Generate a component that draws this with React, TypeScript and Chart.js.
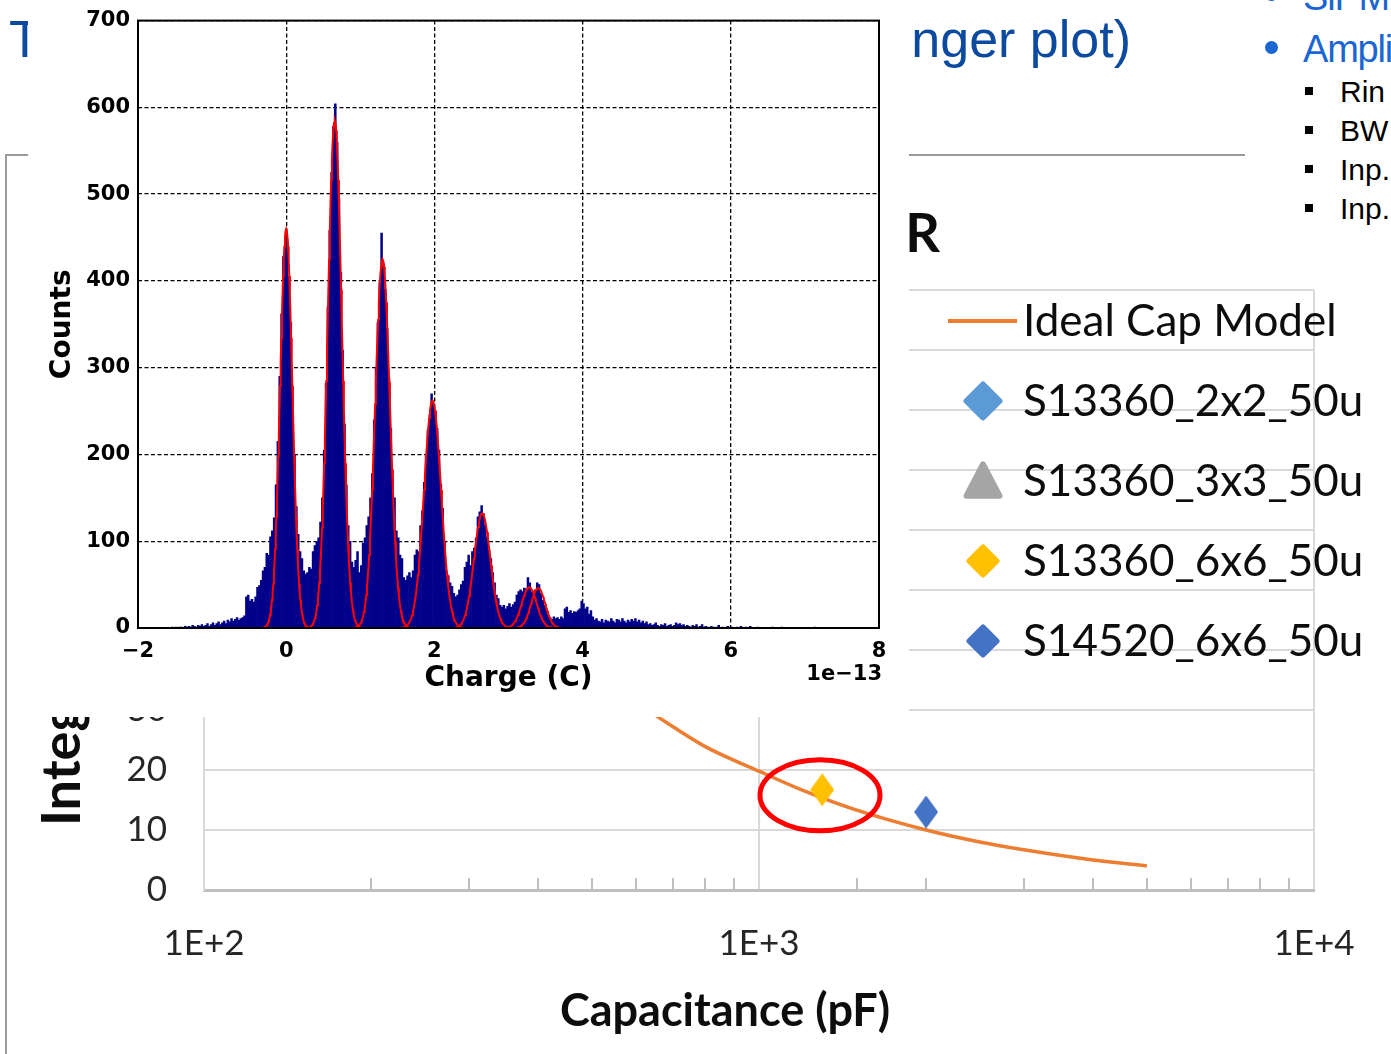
import React, { useEffect, useRef } from "react";
import { Chart, registerables } from "chart.js";

Chart.register(...registerables);

// ---------------- Charge spectrum (finger plot) ----------------
const HIST_START = -1.6; // left edge of first bin (×1e-13 C)
const BIN_WIDTH = 0.025;
const histCounts = [
  0, 0, 1, 0, 1, 0, 1, 1, 0, 2,
  1, 2, 1, 3, 2, 1, 3, 2, 4, 2,
  3, 5, 2, 4, 6, 3, 5, 7, 4, 6,
  8, 5, 9, 7, 11, 8, 10, 12, 9, 11,
  12, 14, 36, 38, 31, 33, 30, 36, 47, 49,
  55, 66, 70, 86, 84, 105, 112, 127, 165, 215,
  290, 362, 428, 452, 448, 405, 352, 268, 200, 140,
  108, 88, 80, 66, 62, 64, 70, 68, 88, 95,
  100, 104, 122, 150, 205, 282, 370, 458, 525, 578,
  604, 560, 495, 410, 320, 235, 165, 118, 100, 76,
  70, 78, 88, 64, 72, 98, 104, 118, 128, 150,
  178, 240, 300, 352, 398, 455, 420, 390, 345, 288,
  230, 172, 150, 112, 104, 84, 80, 58, 55, 60,
  64, 58, 66, 84, 90, 88, 118, 135, 168, 198,
  228, 246, 270, 258, 250, 230, 205, 166, 138, 100,
  66, 60, 52, 48, 40, 36, 38, 44, 50, 54,
  70, 76, 84, 72, 88, 92, 104, 128, 134, 141,
  132, 118, 104, 90, 80, 64, 52, 38, 34, 26,
  24, 26, 22, 25, 28, 24, 27, 30, 38, 42,
  44, 42, 46, 45, 58, 52, 42, 40, 44, 52,
  50, 40, 32, 26, 20, 15, 12, 10, 13, 11,
  12, 10, 13, 11, 22, 24, 18, 20, 17, 19,
  18, 20, 22, 31, 28, 22, 24, 16, 20, 13,
  9, 11, 8, 7, 10, 6, 9, 8, 7, 11,
  8, 6, 10, 9, 7, 11, 8, 6, 9, 7,
  10, 8, 11, 7, 9, 6, 8, 5, 7, 4,
  5, 3, 4, 6, 3, 2, 4, 3, 5, 2,
  3, 4, 2, 3, 6, 4, 5, 3, 4, 2,
  3, 2, 1, 3, 2, 4, 1, 2, 4, 1,
  2, 1, 0, 2, 1, 0, 1, 3, 0, 1,
  0, 1, 2, 0, 1, 0, 0, 1, 0, 2,
  0, 0, 1, 0, 2, 0, 0, 0, 1, 0,
  0, 0, 0, 0, 0, 0, 1, 0, 0, 0,
  0, 1, 0, 0, 0, 0, 0, 0, 0, 0,
  0, 0, 0, 0, 0, 0, 0, 0, 0, 1,
];

// Gaussian fit of each photo-electron peak
const fitMean = [0.0, 0.655, 1.3, 1.975, 2.645, 3.28, 3.4];
const fitAmp = [460, 585, 425, 262, 132, 47, 46];
const fitSigma = [0.083, 0.095, 0.1, 0.115, 0.11, 0.1, 0.095];

const histXTicks = [-2, 0, 2, 4, 6, 8];

// ---------------- Charge vs. capacitance ----------------
const capModelC = [200, 250, 300, 400, 500, 600, 700, 800, 1000, 1200, 1500, 2000, 2500, 3000, 4000, 5000];
const capModelQ = [100, 80, 64, 48, 38.5, 31.5, 27.2, 23.9, 19.8, 16.6, 13.3, 10, 8, 6.7, 5, 4];

const seriesNames = ["S13360_2x2_50u", "S13360_3x3_50u", "S13360_6x6_50u", "S14520_6x6_50u"];
const seriesCap: number[][] = [[], [], [1300], [2000]];
const seriesCharge: number[][] = [[], [], [16.7], [13.0]];
const seriesColors = ["#5B9BD5", "#A5A5A5", "#FFC000", "#4472C4"];
const seriesShapes = ["diamond", "triangle", "diamond", "diamond"];
const seriesLegendSize = [39, 39, 33, 33];

// highlighted measurement (ellipse centre, in data units)
const highlightC = 1288;
const highlightQ = 15.8;

const ORANGE = "#ED7D31";
const LATO = "Lato, 'Open Sans', sans-serif";

const isDecade = (v: number) => Math.abs(Math.log10(v) - Math.round(Math.log10(v))) < 1e-9;

function rhombusImage(w: number, h: number, color: string) {
  const c = document.createElement("canvas");
  c.width = w;
  c.height = h;
  const g = c.getContext("2d")!;
  g.fillStyle = color;
  g.beginPath();
  g.moveTo(w / 2, 0);
  g.lineTo(w, h / 2);
  g.lineTo(w / 2, h);
  g.lineTo(0, h / 2);
  g.closePath();
  g.fill();
  return c;
}

function drawLegendMarker(ctx: CanvasRenderingContext2D, shape: string, cx: number, cy: number, size: number, color: string) {
  const r = 3;
  const s = size / 2 - r;
  ctx.save();
  ctx.fillStyle = color;
  ctx.strokeStyle = color;
  ctx.lineWidth = r * 2;
  ctx.lineJoin = "round";
  ctx.beginPath();
  if (shape === "triangle") {
    ctx.moveTo(cx, cy - s);
    ctx.lineTo(cx + s, cy + s * 0.9);
    ctx.lineTo(cx - s, cy + s * 0.9);
  } else {
    ctx.moveTo(cx, cy - s);
    ctx.lineTo(cx + s, cy);
    ctx.lineTo(cx, cy + s);
    ctx.lineTo(cx - s, cy);
  }
  ctx.closePath();
  ctx.fill();
  ctx.stroke();
  ctx.restore();
}

const lowerDecor = {
  id: "lowerDecor",
  afterDatasetsDraw(chart: any) {
    const { ctx } = chart;
    const x = chart.scales.x;
    const y = chart.scales.y;
    ctx.save();
    // inner minor tick marks on the capacitance axis
    ctx.strokeStyle = "#BFBFBF";
    ctx.lineWidth = 2;
    x.ticks.forEach((t: any) => {
      if (isDecade(t.value)) return;
      const px = Math.round(x.getPixelForValue(t.value));
      ctx.beginPath();
      ctx.moveTo(px, y.bottom);
      ctx.lineTo(px, y.bottom - 12);
      ctx.stroke();
    });
    // highlight ellipse
    ctx.strokeStyle = "#FF0000";
    ctx.lineWidth = 5;
    ctx.beginPath();
    ctx.ellipse(x.getPixelForValue(highlightC), y.getPixelForValue(highlightQ), 60, 35.5, 0, 0, Math.PI * 2);
    ctx.stroke();
    ctx.restore();
  },
  afterDraw(chart: any) {
    const { ctx } = chart;
    ctx.save();
    // legend
    ctx.font = `44px ${LATO}`;
    ctx.fillStyle = "#0D0D0D";
    ctx.textAlign = "left";
    ctx.textBaseline = "middle";
    const rows = chart.data.datasets.map((d: any) => d.label);
    rows.forEach((label: string, i: number) => {
      const cy = 321 + i * 80;
      if (i === 0) {
        ctx.strokeStyle = ORANGE;
        ctx.lineWidth = 4;
        ctx.beginPath();
        ctx.moveTo(948, cy);
        ctx.lineTo(1017, cy);
        ctx.stroke();
      } else {
        drawLegendMarker(ctx, seriesShapes[i - 1], 983, cy, seriesLegendSize[i - 1], seriesColors[i - 1]);
      }
      ctx.fillStyle = "#0D0D0D";
      ctx.fillText(label, 1023, cy + 1);
    });
    // axis titles
    ctx.font = `bold 45px ${LATO}`;
    ctx.textAlign = "center";
    ctx.textBaseline = "alphabetic";
    ctx.fillText("Capacitance (pF)", 725, 1026);
    ctx.save();
    ctx.translate(80, 826);
    ctx.rotate(-Math.PI / 2);
    ctx.font = `bold 54px ${LATO}`;
    ctx.textAlign = "left";
    ctx.fillText("Integrated Charge", 0, 0);
    ctx.restore();
    // chart title
    ctx.font = `bold 54px ${LATO}`;
    ctx.textAlign = "right";
    ctx.fillText("Charge vs. C, fixed R", 940, 252);
    ctx.restore();
  },
};

const histDecor = {
  id: "histDecor",
  afterDraw(chart: any) {
    const { ctx, chartArea: a } = chart;
    ctx.save();
    ctx.strokeStyle = "#000";
    ctx.lineWidth = 2;
    ctx.strokeRect(a.left, a.top, a.right - a.left, a.bottom - a.top);
    ctx.font = "bold 21px 'DejaVu Sans'";
    ctx.fillStyle = "#000";
    ctx.textAlign = "right";
    ctx.textBaseline = "middle";
    ctx.fillText("1e\u221213", a.right + 3, a.bottom + 47);
    ctx.restore();
  },
};

export default function App() {
  const lowerRef = useRef<HTMLCanvasElement>(null);
  const histRef = useRef<HTMLCanvasElement>(null);

  useEffect(() => {
    const seriesSets = seriesNames.map((name, i) => ({
      type: "scatter" as const,
      label: name,
      data: seriesCap[i].map((c, j) => ({ x: c, y: seriesCharge[i][j] })),
      pointStyle: rhombusImage(24, 33, seriesColors[i]),
      pointRadius: 12,
      backgroundColor: seriesColors[i],
      borderColor: seriesColors[i],
      showLine: false,
    }));

    const lower = new Chart(lowerRef.current!, {
      type: "scatter",
      data: {
        datasets: [
          {
            type: "line",
            label: "Ideal Cap Model",
            data: capModelC.map((c, i) => ({ x: c, y: capModelQ[i] })),
            borderColor: ORANGE,
            borderWidth: 3.5,
            pointRadius: 0,
            cubicInterpolationMode: "monotone",
            fill: false,
            order: 2,
          } as any,
          ...seriesSets.map((s) => ({ ...s, order: 1 })),
        ],
      },
      options: {
        responsive: false,
        animation: false,
        devicePixelRatio: 1,
        layout: { padding: { top: 290, right: 77, left: 0, bottom: 0 } },
        plugins: { legend: { display: false }, tooltip: { enabled: false } },
        scales: {
          x: {
            type: "logarithmic",
            min: 100,
            max: 10000,
            afterFit: (s: any) => {
              s.height = 164;
            },
            grid: {
              color: (c: any) => (c.tick && isDecade(c.tick.value) ? "#D9D9D9" : "rgba(0,0,0,0)"),
              lineWidth: 2,
              drawTicks: false,
            },
            border: { color: "#BFBFBF", width: 3 },
            ticks: {
              autoSkip: false,
              maxRotation: 0,
              padding: 33,
              color: "#262626",
              font: { family: LATO, size: 35 },
              callback: (v: any) => (isDecade(Number(v)) ? "1E+" + Math.round(Math.log10(Number(v))) : ""),
            },
          },
          y: {
            type: "linear",
            min: 0,
            max: 100,
            afterFit: (s: any) => {
              s.width = 204;
            },
            grid: { color: "#D9D9D9", lineWidth: 2, drawTicks: false },
            border: { color: "#D9D9D9", width: 2 },
            ticks: { stepSize: 10, padding: 37, color: "#262626", font: { family: LATO, size: 35 } },
          },
        },
      },
      plugins: [lowerDecor],
    } as any);

    const histBars = histCounts.map((c, i) => ({ x: HIST_START + BIN_WIDTH * (i + 0.5), y: c }));
    const fitSets = fitMean.map((mu, k) => {
      const pts: { x: number; y: number }[] = [];
      for (let j = -45; j <= 45; j++) {
        const u = j / 10;
        pts.push({ x: mu + fitSigma[k] * u, y: fitAmp[k] * Math.exp(-0.5 * u * u) });
      }
      return {
        type: "line" as const,
        data: pts,
        borderColor: "#FF0000",
        borderWidth: 2,
        pointRadius: 0,
        tension: 0,
        fill: false,
        order: 1,
      };
    });

    const boldFont = (size: number) => ({ family: "'DejaVu Sans'", weight: "bold" as const, size });

    const hist = new Chart(histRef.current!, {
      type: "bar",
      data: {
        datasets: [
          {
            type: "bar",
            data: histBars,
            backgroundColor: "#00008A",
            borderWidth: 0,
            barPercentage: 1,
            categoryPercentage: 1,
            order: 2,
          } as any,
          ...fitSets,
        ],
      },
      options: {
        responsive: false,
        animation: false,
        devicePixelRatio: 1,
        layout: { padding: { top: 18, right: 30, left: 0, bottom: 0 } },
        plugins: { legend: { display: false }, tooltip: { enabled: false } },
        scales: {
          x: {
            type: "linear",
            min: -2,
            max: 8,
            offset: false,
            z: 1,
            afterFit: (s: any) => {
              s.height = 89;
            },
            afterBuildTicks: (s: any) => {
              s.ticks = histXTicks.map((v) => ({ value: v }));
            },
            grid: { color: "#000", lineWidth: 1.3, drawTicks: false, offset: false },
            border: { display: false, dash: [4, 2.5] },
            ticks: {
              padding: 11,
              color: "#000",
              font: boldFont(21),
              callback: (v: any) => (Number(v) < 0 ? "\u2212" + Math.abs(Number(v)) : String(v)),
            },
            title: { display: true, text: "Charge (C)", color: "#000", font: boldFont(28), padding: { top: 0, bottom: 21 } },
          },
          y: {
            type: "linear",
            min: 0,
            max: 700,
            z: 1,
            afterFit: (s: any) => {
              s.width = 110;
            },
            grid: { color: "#000", lineWidth: 1.3, drawTicks: false },
            border: { display: false, dash: [4, 2.5] },
            ticks: { stepSize: 100, padding: 8, color: "#000", font: boldFont(21) },
            title: { display: true, text: "Counts", color: "#000", font: boldFont(28), padding: { top: 18, bottom: 0 } },
          },
        },
      },
      plugins: [histDecor],
    } as any);

    return () => {
      lower.destroy();
      hist.destroy();
    };
  }, []);

  const sans = "'Liberation Sans', Arial, sans-serif";
  const subItems = ["Rin", "BW", "Inp.", "Inp."];
  const bulletText = {
    position: "absolute" as const,
    left: 1303,
    font: `38px ${sans}`,
    lineHeight: "38px",
    letterSpacing: "-1.2px",
    color: "#1A66D2",
    whiteSpace: "nowrap" as const,
  };

  return (
    <div
      style={{
        position: "fixed",
        left: 0,
        top: 0,
        width: 1391,
        height: 1054,
        overflow: "hidden",
        background: "#fff",
      }}
    >
      {/* slide title */}
      <div
        style={{
          position: "absolute",
          left: 9,
          top: 13,
          width: 1122,
          display: "flex",
          justifyContent: "space-between",
          font: `52px ${sans}`,
          lineHeight: "52px",
          color: "#0B4A9E",
          whiteSpace: "nowrap",
        }}
      >
        <span>Test Results</span>
        <span>(finger plot)</span>
      </div>

      {/* frame lines of the slide panel */}
      <div style={{ position: "absolute", left: 5, top: 154, width: 1240, height: 2, background: "#9A9A9A" }} />
      <div style={{ position: "absolute", left: 5, top: 154, width: 2, height: 900, background: "#9A9A9A" }} />

      {/* bullet list */}
      <div style={{ position: "absolute", left: 1265, top: -12, width: 13, height: 13, borderRadius: "50%", background: "#1A66D2" }} />
      <div style={{ ...bulletText, top: -22 }}>SiPM</div>
      <div style={{ position: "absolute", left: 1265, top: 41, width: 13, height: 13, borderRadius: "50%", background: "#1A66D2" }} />
      <div style={{ ...bulletText, top: 30 }}>Amplifier</div>
      {subItems.map((t, i) => (
        <React.Fragment key={i}>
          <div style={{ position: "absolute", left: 1305, top: 87 + i * 39, width: 8, height: 8, background: "#000" }} />
          <div
            style={{
              position: "absolute",
              left: 1340,
              top: 77 + i * 39,
              font: `30px ${sans}`,
              lineHeight: "30px",
              color: "#000",
              whiteSpace: "nowrap",
            }}
          >
            {t}
          </div>
        </React.Fragment>
      ))}

      <canvas ref={lowerRef} width={1391} height={1054} style={{ position: "absolute", left: 0, top: 0, display: "block" }} />
      <canvas
        ref={histRef}
        width={881}
        height={717}
        style={{ position: "absolute", left: 28, top: 0, display: "block", background: "#fff" }}
      />
    </div>
  );
}
